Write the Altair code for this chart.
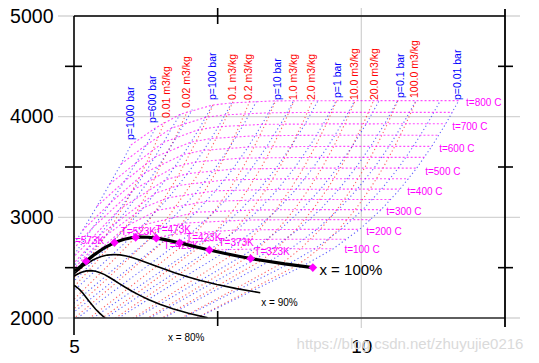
import altair as alt
import pandas as pd

# ---------------- axis values ----------------
x_label_values = [5, 10]
y_label_values = [2000, 3000, 4000, 5000]
grid_h = [2000, 3000, 4000, 5000]
grid_s = [10]
minor_tick_h = [2500, 3500, 4500]
minor_tick_s = [7.5]

# ---------------- saturation line (x = 100 %) ----------------
sat_s = [4.797, 5.053, 5.211, 5.336, 5.536, 5.704, 5.858, 5.994, 6.073, 6.142, 6.286, 6.432,
         6.585, 6.751, 6.837, 6.930, 7.130, 7.355, 7.611, 7.908, 8.075, 8.256, 8.666, 9.156]
sat_h = [2444, 2481, 2564, 2622, 2700, 2749, 2780, 2797, 2801, 2804, 2802, 2793,
         2778, 2758, 2746, 2734, 2706, 2676, 2643, 2609, 2591, 2574, 2537, 2501]

# marked saturation points
mark_T = [623, 573, 523, 473, 423, 373, 323, 273]
mark_s = [5.211, 5.704, 6.073, 6.432, 6.837, 7.355, 8.075, 9.156]
mark_h = [2564, 2749, 2801, 2793, 2746, 2676, 2591, 2501]

# temperature labels on the saturation line
tlab_text = ["T=573K", "T=523K", "T=473K", "T=423K", "T=423K", "T=373K", "T=323K"]
tlab_s = [5.217, 6.120, 6.727, 6.866, 7.257, 7.821, 8.446]
tlab_h = [2765, 2854, 2874, 2715, 2794, 2745, 2655]

# ---------------- quality lines ----------------
q90_s = [4.939, 5.167, 5.327, 5.459, 5.579, 5.690, 5.800, 5.910, 6.023, 6.141, 6.270, 6.411,
         6.570, 6.750, 6.957, 7.200, 7.487, 7.829, 8.241]
q90_h = [2409, 2519, 2576, 2608, 2625, 2631, 2627, 2616, 2599, 2577, 2550, 2519,
         2486, 2450, 2412, 2373, 2333, 2292, 2251]
q80_s = [4.825, 5.000, 5.118, 5.214, 5.300, 5.378, 5.456, 5.533, 5.613, 5.697, 5.789, 5.892,
         6.010, 6.145, 6.303, 6.493, 6.718, 6.992, 7.325]
q80_h = [2337, 2417, 2452, 2468, 2471, 2464, 2450, 2431, 2405, 2375, 2342, 2305,
         2266, 2225, 2181, 2137, 2092, 2047, 2001]
q70_s = [4.712, 4.832, 4.910, 4.969, 5.021, 5.067, 5.111, 5.156, 5.202, 5.252, 5.309, 5.373,
         5.449, 5.541]
q70_h = [2265, 2314, 2329, 2327, 2317, 2298, 2274, 2245, 2211, 2174, 2133, 2090, 2046, 1999]

qlab_text = ["x = 100%", "x = 90%", "x = 80%"]
qlab_s = [9.271, 8.576, 6.953]
qlab_h = [2480, 2149, 1801]

# ---------------- isobars (blue) ----------------
isobar_p = [0.01, 0.02, 0.05, 0.1, 0.2, 0.5, 1, 2, 5, 10, 20, 50, 100, 200, 300, 600, 1000]
isobar_s = [
    [7.141, 8.975, 9.512, 9.968, 10.346, 10.672, 10.963, 11.226, 11.469, 11.694],
    [6.890, 8.724, 9.192, 9.648, 10.026, 10.352, 10.643, 10.906, 11.149, 11.374],
    [6.562, 8.394, 8.769, 9.225, 9.603, 9.929, 10.220, 10.483, 10.726, 10.951],
    [6.319, 8.149, 8.449, 8.905, 9.283, 9.609, 9.900, 10.163, 10.406, 10.631],
    [6.080, 7.907, 8.127, 8.584, 8.962, 9.289, 9.580, 9.843, 10.086, 10.311],
    [5.773, 7.593, 7.695, 8.158, 8.538, 8.865, 9.156, 9.419, 9.662, 9.887],
    [5.549, 7.359, 7.834, 8.216, 8.544, 8.834, 9.098, 9.340, 9.565],
    [5.332, 7.127, 7.507, 7.894, 8.223, 8.514, 8.777, 9.020, 9.245],
    [5.061, 6.821, 7.061, 7.460, 7.794, 8.088, 8.353, 8.596, 8.821],
    [4.870, 6.585, 6.694, 7.123, 7.465, 7.762, 8.029, 8.273, 8.500],
    [4.695, 6.339, 6.545, 6.768, 7.128, 7.432, 7.702, 7.947, 8.175],
    [4.495, 5.974, 6.208, 6.646, 6.976, 7.259, 7.512, 7.744],
    [4.374, 5.616, 5.944, 6.212, 6.597, 6.903, 7.169, 7.408],
    [4.290, 4.930, 5.554, 5.902, 6.141, 6.345, 6.504, 6.650, 6.796, 7.060],
    [4.474, 5.442, 5.796, 6.040, 6.237, 6.410, 6.561, 6.700, 6.850],
    [4.41, 4.93, 5.33, 5.645, 5.88, 6.08, 6.26, 6.42],
    [4.50, 4.85, 5.15, 5.40, 5.62, 5.82, 5.99],
]
isobar_h = [
    [2000, 2514, 2688, 2880, 3077, 3280, 3489, 3706, 3929, 4159],
    [2000, 2533, 2688, 2880, 3077, 3280, 3489, 3706, 3929, 4159],
    [2000, 2561, 2688, 2880, 3077, 3280, 3489, 3706, 3929, 4159],
    [2000, 2584, 2688, 2880, 3077, 3280, 3489, 3706, 3929, 4159],
    [2000, 2609, 2686, 2879, 3077, 3280, 3489, 3706, 3929, 4159],
    [2000, 2645, 2683, 2878, 3076, 3279, 3489, 3705, 3929, 4159],
    [2000, 2675, 2875, 3074, 3278, 3488, 3705, 3928, 4159],
    [2000, 2706, 2870, 3072, 3277, 3487, 3704, 3927, 4158],
    [2000, 2748, 2855, 3065, 3272, 3484, 3702, 3926, 4157],
    [2000, 2777, 2828, 3051, 3264, 3479, 3698, 3924, 4157],
    [2000, 2798, 2903, 3024, 3248, 3468, 3690, 3918, 4151],
    [2000, 2794, 2925, 3196, 3434, 3666, 3900, 4137],
    [2000, 2726, 2923, 3097, 3374, 3625, 3871, 4115],
    [2000, 2410, 2818, 3061, 3241, 3396, 3537, 3672, 3809, 4070],
    [2153, 2821, 3082, 3276, 3444, 3600, 3746, 3887, 4024],
    [2179, 2568, 2900, 3151, 3360, 3540, 3720, 3889],
    [2300, 2600, 2870, 3110, 3330, 3530, 3718],
]
pbar_text = ["p=1000 bar", "p=600 bar", "p=100 bar", "p=10 bar", "p=1 bar", "p=0.1 bar", "p=0.01 bar"]
pbar_s = [5.990, 6.372, 7.413, 8.550, 9.592, 10.686, 11.684]
pbar_h = [3768, 3936, 4165, 4165, 4185, 4185, 4165]

# ---------------- isochores (red) ----------------
isochore_v = [0.01, 0.02, 0.05, 0.1, 0.2, 0.5, 1, 2, 5, 10, 20, 50, 100]
isochore_s = [
    [4.797, 5.003, 5.211, 5.270, 5.554, 5.730, 5.880, 6.160, 6.380, 6.580],
    [4.917, 5.213, 5.516, 5.660, 5.870, 6.074, 6.330, 6.550, 6.770, 6.970],
    [4.912, 5.128, 5.583, 6.070, 6.270, 6.566, 6.814, 7.025, 7.245, 7.430],
    [4.964, 5.242, 5.551, 6.340, 6.480, 6.648, 6.920, 7.190, 7.390, 7.587, 7.767],
    [4.930, 5.073, 5.448, 5.851, 6.595, 6.739, 7.028, 7.280, 7.507, 7.714, 7.890, 8.060],
    [5.260, 5.667, 6.230, 6.925, 7.140, 7.451, 7.703, 7.930, 8.137, 8.330, 8.510],
    [5.420, 5.546, 6.228, 7.173, 7.482, 7.771, 8.023, 8.250, 8.457, 8.650, 8.830],
    [5.666, 6.517, 7.415, 7.802, 8.091, 8.343, 8.570, 8.777, 8.970, 9.150],
    [5.800, 6.490, 7.750, 7.879, 8.225, 8.514, 8.766, 8.993, 9.200, 9.393, 9.573],
    [6.031, 6.830, 8.005, 8.199, 8.545, 8.834, 9.086, 9.313, 9.520, 9.713, 9.893],
    [6.500, 6.735, 7.350, 8.265, 8.310, 8.519, 8.865, 9.154, 9.406, 9.633, 9.840, 10.033, 10.213],
    [6.400, 7.536, 8.610, 8.732, 8.941, 9.287, 9.576, 9.828, 10.055, 10.262, 10.455, 10.635],
    [6.970, 7.810, 8.876, 9.052, 9.261, 9.607, 9.896, 10.148, 10.375, 10.582, 10.775, 10.955],
]
isochore_h = [
    [2262, 2402, 2546, 2594, 2818, 2985, 3125, 3420, 3681, 3955],
    [2259, 2444, 2641, 2737, 2885, 3039, 3297, 3566, 3800, 4050],
    [2137, 2258, 2516, 2801, 2945, 3182, 3413, 3643, 3890, 4130],
    [2072, 2216, 2376, 2798, 2895, 3010, 3232, 3452, 3690, 3917, 4150],
    [1965, 2031, 2212, 2408, 2777, 2826, 3057, 3268, 3482, 3700, 3925, 4157],
    [1995, 2172, 2422, 2734, 2860, 3066, 3274, 3485, 3703, 3927, 4158],
    [1975, 2022, 2303, 2700, 2870, 3071, 3276, 3487, 3704, 3928, 4158],
    [1978, 2310, 2668, 2875, 3074, 3278, 3488, 3704, 3928, 4158],
    [1916, 2165, 2627, 2685, 2878, 3076, 3279, 3489, 3705, 3929, 4159],
    [1914, 2189, 2599, 2686, 2879, 3077, 3280, 3489, 3705, 3929, 4159],
    [1990, 2066, 2271, 2573, 2592, 2687, 2879, 3077, 3280, 3489, 3705, 3929, 4159],
    [1855, 2206, 2542, 2593, 2688, 2880, 3077, 3280, 3489, 3705, 3929, 4159],
    [1952, 2202, 2522, 2593, 2688, 2880, 3077, 3280, 3489, 3705, 3929, 4159],
]
vol_text = ["0.01 m3/kg", "0.02 m3/kg", "0.1 m3/kg", "0.2 m3/kg", "1.0 m3/kg", "2.0 m3/kg",
            "10.0 m3/kg", "20.0 m3/kg", "100.0 m3/kg"]
vol_s = [6.623, 6.970, 7.760, 8.038, 8.828, 9.141, 9.896, 10.234, 10.938]
vol_h = [3986, 4085, 4165, 4165, 4165, 4165, 4165, 4165, 4185]

# ---------------- isotherms (magenta) ----------------
isotherm_t = [800, 750, 700, 650, 600, 550, 500, 450, 400, 350, 300, 250, 200, 150, 100]
isotherm_s = [
    [5.99, 6.42, 6.85, 7.408, 7.744, 8.500, 9.565, 10.631, 11.694],
    [5.82, 6.26, 6.70, 7.290, 7.630, 8.389, 9.455, 10.520, 11.583],
    [5.62, 6.08, 6.561, 7.169, 7.512, 8.273, 9.340, 10.406, 11.469],
    [5.40, 5.88, 6.41, 7.040, 7.389, 8.154, 9.222, 10.287, 11.350],
    [5.15, 5.645, 6.237, 6.903, 7.259, 8.029, 9.098, 10.163, 11.226],
    [4.85, 5.33, 6.04, 6.756, 7.122, 7.899, 8.969, 10.034, 11.097],
    [4.50, 4.93, 5.796, 6.597, 6.976, 7.762, 8.834, 9.900, 10.963],
    [4.41, 5.442, 6.419, 6.819, 7.618, 8.693, 9.758, 10.821],
    [4.474, 5.141, 5.554, 6.212, 6.646, 7.465, 8.544, 9.609, 10.672],
    [5.211, 5.944, 6.450, 7.301, 8.385, 9.451, 10.514],
    [5.704, 6.208, 7.123, 8.216, 9.283, 10.346],
    [6.073, 6.545, 6.925, 8.033, 9.102, 10.165],
    [6.432, 6.694, 7.834, 8.905, 9.968],
    [6.837, 7.614, 8.689, 9.752],
    [7.355, 8.449, 9.512],
]
isotherm_h = [
    [3718, 3889, 4024, 4115, 4137, 4157, 4159, 4159, 4159],
    [3530, 3720, 3887, 3993, 4018, 4039, 4043, 4043, 4043],
    [3330, 3540, 3746, 3871, 3900, 3924, 3928, 3929, 3929],
    [3110, 3360, 3600, 3748, 3783, 3810, 3815, 3816, 3816],
    [2870, 3151, 3444, 3625, 3666, 3698, 3704, 3705, 3705],
    [2600, 2900, 3276, 3501, 3550, 3588, 3595, 3596, 3596],
    [2300, 2568, 3082, 3374, 3434, 3479, 3488, 3489, 3489],
    [2179, 2821, 3241, 3317, 3371, 3383, 3384, 3384],
    [2153, 2580, 2818, 3097, 3196, 3264, 3278, 3280, 3280],
    [2564, 2923, 3069, 3158, 3175, 3177, 3177],
    [2749, 2925, 3051, 3074, 3077, 3077],
    [2801, 2903, 2943, 2974, 2977, 2977],
    [2793, 2828, 2875, 2880, 2880],
    [2746, 2776, 2783, 2783],
    [2676, 2688, 2688],
]
tC_text = ["t=800 C", "t=700 C", "t=600 C", "t=500 C", "t=400 C", "t=300 C", "t=200 C", "t=100 C"]
tC_s = [11.823, 11.580, 11.354, 11.111, 10.799, 10.434, 10.087, 9.705]
tC_h = [4135, 3897, 3678, 3450, 3251, 3053, 2854, 2675]

watermark = "https://blog.csdn.net/zhuyujie0216"

# ---------------- build tables ----------------
def lines_df(keys, s_lists, h_lists, prefix):
    rows = []
    for key, ss, hh in zip(keys, s_lists, h_lists):
        for k, (s, h) in enumerate(zip(ss, hh)):
            rows.append({"line": f"{prefix}{key}", "k": k, "s": s, "h": h})
    return pd.DataFrame(rows)

df_isobar = lines_df(isobar_p, isobar_s, isobar_h, "p")
df_isochore = lines_df(isochore_v, isochore_s, isochore_h, "v")
df_isotherm = lines_df(isotherm_t, isotherm_s, isotherm_h, "t")
df_quality = lines_df(["90", "80", "70"], [q90_s, q80_s, q70_s], [q90_h, q80_h, q70_h], "x")
df_sat = pd.DataFrame({"s": sat_s, "h": sat_h, "k": list(range(len(sat_s)))})
df_mark = pd.DataFrame({"T": mark_T, "s": mark_s, "h": mark_h})
df_tlab = pd.DataFrame({"text": tlab_text, "s": tlab_s, "h": tlab_h})
df_qlab = pd.DataFrame({"text": qlab_text, "s": qlab_s, "h": qlab_h})
df_plab = pd.DataFrame({"text": pbar_text, "s": pbar_s, "h": pbar_h})
df_vlab = pd.DataFrame({"text": vol_text, "s": vol_s, "h": vol_h})
df_tClab = pd.DataFrame({"text": tC_text, "s": tC_s, "h": tC_h})
df_gh = pd.DataFrame({"h": grid_h})
df_gs = pd.DataFrame({"s": grid_s})
df_th = pd.DataFrame({"h": minor_tick_h})
df_ts = pd.DataFrame({"s": minor_tick_s})
one = pd.DataFrame({"a": [0]})

FONT = "Liberation Sans"
W, H = 431, 302
xs = alt.Scale(domain=[5, 12.5], nice=False, zero=False)
ys = alt.Scale(domain=[2000, 5000], nice=False, zero=False)

x_axis = alt.Axis(values=x_label_values, labelFontSize=19, labelFont=FONT, labelColor="#000",
                  ticks=False, tickSize=0, domain=False, grid=False, labelPadding=19,
                  labelFlush=False, labelOverlap=False, title=None)
y_axis = alt.Axis(values=y_label_values, labelFontSize=19.5, labelFont=FONT, labelColor="#000",
                  ticks=False, tickSize=0, domain=False, grid=False, labelPadding=21,
                  labelFlush=False, labelOverlap=False, title=None, format="d")


def X():
    return alt.X("s:Q", scale=xs, axis=x_axis)


def Y():
    return alt.Y("h:Q", scale=ys, axis=y_axis)


hgrid = alt.Chart(df_gh).mark_rule(color="#d4d4d4", strokeWidth=1.3).encode(
    y=Y(), x=alt.value(-16), x2=alt.value(W + 15))
vgrid = alt.Chart(df_gs).mark_rule(color="#d4d4d4", strokeWidth=1.3).encode(
    x=X(), y=alt.value(-11), y2=alt.value(H + 10))

isochores = alt.Chart(df_isochore).mark_line(
    clip=True, color="#ff1a1a", strokeWidth=1.1, strokeDash=[1.2, 2.6], opacity=0.7
).encode(x=X(), y=Y(), detail="line:N", order="k:Q")
isobars = alt.Chart(df_isobar).mark_line(
    clip=True, color="#2020ff", strokeWidth=1.1, strokeDash=[1.2, 2.6], opacity=0.7
).encode(x=X(), y=Y(), detail="line:N", order="k:Q")
isotherms = alt.Chart(df_isotherm).mark_line(
    clip=True, color="#ff00ff", strokeWidth=1.1, strokeDash=[2, 2], opacity=0.7
).encode(x=X(), y=Y(), detail="line:N", order="k:Q")
quality = alt.Chart(df_quality).mark_line(
    clip=True, color="#000000", strokeWidth=1.6
).encode(x=X(), y=Y(), detail="line:N", order="k:Q")

tlabels = alt.Chart(df_tlab).mark_text(
    clip=True, color="#ff00ff", font=FONT, fontSize=10, align="center", baseline="middle"
).encode(x=X(), y=Y(), text="text:N")

satline = alt.Chart(df_sat).mark_line(clip=True, color="#000000", strokeWidth=3.2).encode(
    x=X(), y=Y(), order="k:Q")
marks = alt.Chart(df_mark).mark_point(
    shape="diamond", filled=True, size=75, color="#ff00ff", opacity=1
).encode(x=X(), y=Y())

qlab_main = alt.Chart(df_qlab.iloc[[0]]).mark_text(
    font=FONT, color="#000000", fontSize=15, align="left", baseline="middle"
).encode(x=X(), y=Y(), text="text:N")
qlab_small = alt.Chart(df_qlab.iloc[1:]).mark_text(
    font=FONT, color="#000000", fontSize=10, align="center", baseline="middle"
).encode(x=X(), y=Y(), text="text:N")

plabels = alt.Chart(df_plab).mark_text(
    font=FONT, color="#0000ff", fontSize=10.5, angle=270, align="left", baseline="middle"
).encode(x=X(), y=Y(), text="text:N")
vlabels = alt.Chart(df_vlab).mark_text(
    font=FONT, color="#ff0000", fontSize=10.5, angle=270, align="left", baseline="middle"
).encode(x=X(), y=Y(), text="text:N")
tClabels = alt.Chart(df_tClab).mark_text(
    font=FONT, color="#ff00ff", fontSize=10, align="left", baseline="middle"
).encode(x=X(), y=Y(), text="text:N")

# frame
frame_top = alt.Chart(one).mark_rule(color="#000", strokeWidth=1.6).encode(
    x=alt.value(0), x2=alt.value(W), y=alt.value(0))
frame_bottom = alt.Chart(one).mark_rule(color="#333", strokeWidth=1.4).encode(
    x=alt.value(0), x2=alt.value(W), y=alt.value(H))
frame_left = alt.Chart(one).mark_rule(color="#000", strokeWidth=1.6).encode(
    x=alt.value(0), y=alt.value(0), y2=alt.value(H + 17))
frame_right = alt.Chart(one).mark_rule(color="#000", strokeWidth=1.8).encode(
    x=alt.value(W), y=alt.value(-7), y2=alt.value(H + 9))

tick_left = alt.Chart(df_th).mark_rule(color="#000", strokeWidth=1.6).encode(
    y=Y(), x=alt.value(-9), x2=alt.value(8))
tick_right = alt.Chart(df_th).mark_rule(color="#000", strokeWidth=1.6).encode(
    y=Y(), x=alt.value(W - 7), x2=alt.value(W + 8))
tick_top = alt.Chart(df_ts).mark_rule(color="#000", strokeWidth=1.6).encode(
    x=X(), y=alt.value(-8), y2=alt.value(8))
tick_bottom = alt.Chart(df_ts).mark_rule(color="#000", strokeWidth=1.6).encode(
    x=X(), y=alt.value(H - 7), y2=alt.value(H + 8))

wm = alt.Chart(pd.DataFrame({"text": [watermark]})).mark_text(
    font=FONT, fontSize=15, color="#dadada", align="center", baseline="middle"
).encode(text="text:N", x=alt.value(336), y=alt.value(328))

chart = alt.layer(
    hgrid, vgrid, isochores, isobars, isotherms, quality, tlabels, satline, marks,
    qlab_main, qlab_small, plabels, vlabels, tClabels,
    frame_top, frame_bottom, frame_left, frame_right,
    tick_left, tick_right, tick_top, tick_bottom, wm
).properties(
    width=W, height=H,
    autosize=alt.AutoSizeParams(type="none"),
    padding={"left": 66, "top": 8, "right": 26, "bottom": 37},
    background="white",
).configure_view(stroke=None)

chart.save("out.html", embed_options={"renderer": "svg", "actions": False})
